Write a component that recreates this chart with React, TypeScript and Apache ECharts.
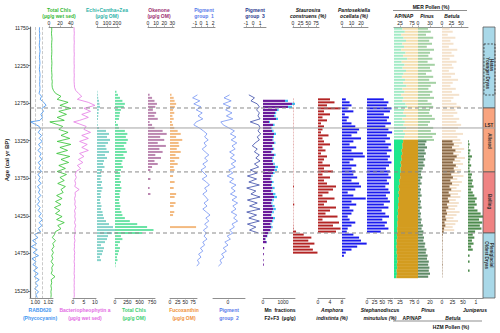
import React, { useEffect, useRef } from "react";
import * as echarts from "echarts";

// ---------------- data ----------------
const AGE_MIN = 11737;
const AGE_MAX = 15344;
const ageTicks = [11750, 12250, 12750, 13250, 13750, 14250, 14750, 15250];

// high-resolution core scanning / wet-sediment pigments
const scanAges = [11740, 11780, 11820, 11860, 11900, 11940, 11980, 12020, 12060, 12100,
  12140, 12180, 12220, 12260, 12300, 12340, 12380, 12420, 12460, 12500,
  12540, 12580, 12620, 12660, 12700, 12740, 12780, 12820, 12860, 12900,
  12940, 12980, 13000, 13060, 13100, 13140, 13180, 13220, 13260, 13300,
  13340, 13380, 13420, 13460, 13500, 13540, 13580, 13620, 13660, 13700,
  13740, 13780, 13820, 13860, 13900, 13940, 13980, 14020, 14060, 14100,
  14140, 14180, 14220, 14260, 14300, 14340, 14380, 14420, 14460, 14500,
  14540, 14580, 14620, 14660, 14700, 14740, 14780, 14820, 14860, 14900,
  14940, 14980, 15020, 15060, 15100, 15140, 15180, 15220, 15260, 15300, 15340];
const rabd620 = [1.0066, 1.0062, 1.0068, 1.0064, 1.0070, 1.0065, 1.0061, 1.0067, 1.0072, 1.0066,
  1.0063, 1.0068, 1.0071, 1.0066, 1.0062, 1.0069, 1.0073, 1.0067, 1.0070, 1.0066, 1.0072,
  1.0070, 1.0058, 1.0095, 1.0075, 1.0130, 1.0165, 1.0100, 1.0125, 1.0085, 1.0110, 1.0070,
  0.9930, 1.0060,
  1.0080, 1.0045, 1.0095, 1.0060, 1.0105, 1.0050, 1.0085, 1.0040, 1.0090, 1.0065,
  1.0100, 1.0045, 1.0080, 1.0055, 1.0095, 1.0040, 1.0075, 1.0050, 1.0090, 1.0035,
  1.0070, 1.0050, 1.0085, 1.0040, 1.0065, 1.0030, 1.0075, 1.0045, 1.0090, 1.0055,
  1.0110, 1.0060, 1.0100, 1.0045, 1.0080,
  0.9990, 1.0040, 0.9960, 1.0020, 0.9940, 1.0030, 0.9970, 1.0050, 0.9950, 1.0010,
  0.9965, 1.0035, 0.9975, 1.0045, 0.9985, 1.0060, 1.0000, 1.0040, 0.9990, 1.0050, 1.0010, 1.0030];
const totalChlsWet = [5, 5, 4.5, 5, 5.5, 5, 4.8, 5, 5.2, 5, 4.6, 5, 5.3, 5, 4.8, 5, 5.5, 5, 6, 5.5, 6,
  8, 12, 22, 15, 35, 20, 40, 18, 32, 15, 28,
  1.5, 25,
  18, 35, 22, 38, 15, 40, 20, 34, 14, 38, 22, 36, 18, 30, 15, 32, 20, 28, 16, 30,
  22, 26, 14, 24, 12, 22, 10, 20, 12, 24, 14, 28, 16, 22, 12,
  10, 6, 12, 7, 9, 5, 8, 5, 7, 4, 8, 5, 6, 4, 11, 4, 5, 3.5, 4.5, 3.5, 4, 3.5];
const bacteriopheophytin = [0.5, 0.5, 0.6, 0.5, 0.5, 0.6, 0.5, 0.5, 0.5, 0.6, 0.5, 0.5, 0.5, 0.6, 0.5, 0.5, 0.6, 0.5, 0.5, 0.6, 0.7,
  1.2, 2.5, 4, 2, 7, 10, 5, 8, 4, 7, 3,
  0.3, 6,
  5, 8, 4, 7, 3, 6.5, 4, 7, 3, 5, 2.5, 4.5, 2, 3.5, 1.5, 1, 1.5, 0.8, 1.2, 0.8,
  2.8, 0.9, 1.1, 0.7, 1.0, 0.8, 1.3, 0.7, 1.0, 0.8, 1.1, 0.7, 1.2, 0.8, 1.0,
  0.8, 0.6, 0.9, 0.6, 0.7, 0.5, 0.8, 0.6, 0.7, 0.5, 0.7, 0.6, 0.6, 0.5, 0.7, 0.5, 0.6, 0.5, 0.6, 0.5, 0.6, 0.5];

// HPLC pigments (µg/g OM)
const pigAges = [12600, 12640, 12680, 12720, 12760, 12800, 12840, 12880, 12920, 12960,
  13000, 13040, 13080, 13120, 13160, 13200, 13240, 13280, 13320, 13360,
  13400, 13440, 13480, 13520, 13560, 13600, 13640, 13680, 13720, 13760,
  13800, 13840, 13880, 13920, 13960, 14000, 14040, 14080, 14120, 14160,
  14200, 14240, 14280, 14320, 14360, 14400, 14440, 14480, 14520, 14560,
  14600, 14640, 14680, 14720, 14760, 14800, 14840, 14880, 14920];
const echiCanthaZea = [5, 8, 12, 20, 25, 30, 18, 15, 12, 10,
  3, 8, 20, 90, 120, 100, 130, 110, 85, 95,
  120, 80, 100, 70, 60, 75, 50, 40, 45, 35,
  50, 40, 55, 45, 35, 40, 30, 35, 45, 40,
  55, 60, 70, 90, 120, 160, 180, 150, 110, 100,
  80, 40, 70, 60, 50, 30, 40, 0, 0];
const totalChlsOM = [30, 60, 100, 150, 200, 180, 120, 100, 90, 80,
  20, 60, 80, 200, 250, 220, 260, 230, 180, 210,
  240, 170, 200, 150, 130, 160, 120, 100, 110, 90,
  120, 100, 130, 110, 90, 100, 80, 90, 110, 100,
  130, 150, 200, 300, 450, 650, 780, 550, 120, 150,
  100, 60, 100, 80, 60, 40, 50, 20, 10];
const okenone = [0, 2, 5, 8, 11, 9, 6, 10, 8, 12,
  2, 5, 8, 18, 23, 15, 20, 12, 22, 14,
  18, 9, 16, 8, 12, 5, 3, 0, 0, 3,
  0, 0, 2, 0, 3, 0, 0, 0, 0, 0,
  0, 0, 0, 0, 0, 0, 0, 0, 0, 0,
  0, 0, 0, 0, 0, 0, 0, 0, 0];
const fucoxanthin = [0, 5, 12, 15, 20, 16, 10, 14, 8, 12,
  6, 10, 14, 25, 35, 20, 40, 28, 30, 22,
  35, 18, 30, 15, 25, 12, 15, 0, 10, 0,
  15, 0, 12, 0, 20, 15, 0, 18, 12, 0,
  14, 10, 0, 0, 0, 85, 0, 0, 0, 0,
  0, 0, 0, 0, 0, 0, 0, 0, 0];

// PCA pigment groups
const pcaAges = [12640, 12680, 12720, 12760, 12800, 12840, 12880, 12920, 12960, 13000,
  13040, 13080, 13120, 13160, 13200, 13240, 13280, 13320, 13360, 13400,
  13440, 13480, 13520, 13560, 13600, 13640, 13680, 13720, 13760, 13800,
  13840, 13880, 13920, 13960, 14000, 14040, 14080, 14120, 14160, 14200,
  14240, 14280, 14320, 14360, 14400, 14440, 14480, 14520, 14560, 14600,
  14640, 14680, 14720, 14760, 14800, 14840, 14880, 14920];
const pigmentGroup1 = [-0.6, -1.4, -0.2, -1.2, 0.0, -0.8, 0.2, -0.5, 0.3, -0.8,
  -1.2, -0.3, 0.4, 1.0, 0.6, 1.2, 0.5, 0.9, 0.2, 0.7,
  1.3, 0.6, 1.1, 0.3, 0.8, 0.0, 0.5, 1.0, 0.2, 0.9,
  1.4, 0.6, 1.0, 0.3, 0.8, 1.2, 0.5, 1.0, 0.3, 0.9,
  1.5, 0.8, 1.3, 0.6, 1.1, 0.4, 0.9, 0.5, 1.0, 0.3,
  0.6, -0.1, 0.3, -0.4, 0.0, -0.6, -0.3, -0.7];
const pigmentGroup2 = [0.2, -0.5, 0.4, -0.6, 0.3, -0.3, 0.5, -0.2, 0.6, -0.9,
  -0.6, 0.1, 0.8, 0.3, 1.0, 0.4, 1.1, 0.5, 0.9, 0.2,
  0.8, 0.3, 1.0, 0.4, 0.9, 0.1, 0.6, -0.1, 0.7, 0.2,
  1.0, 0.4, 0.9, 0.3, 1.1, 0.5, 1.2, 0.6, 1.0, 0.4,
  1.1, 0.7, 1.2, 0.5, 0.8, 0.2, 0.6, -0.1, 0.3, -0.4,
  0.0, -0.6, -0.2, -0.8, -0.5, -1.0, -0.8, -1.2];
const pigmentGroup3 = [-0.6, 0.2, -0.3, 0.6, 0.9, 0.5, 0.9, 0.7, 1.0, -0.4,
  0.8, 1.0, 0.7, 1.1, 0.6, 0.9, 0.3, -0.1, 0.6, 0.2,
  0.9, 0.4, 1.0, 0.2, 0.8, -0.4, 0.6, -0.8, 0.5, -0.6,
  0.9, -0.9, 0.4, -0.3, 1.0, -0.8, 0.6, -0.5, 1.0, -0.9,
  0.5, -0.6, 0.9, -0.8, 0.4, -0.5, 0.8,
  null, null, null, null, null, null, null, null, null, null, null];

// Mn fractions (µg/g)
const mnAges = [12720, 12760, 12800, 12840, 12880, 12920, 12960, 13000, 13040, 13080,
  13120, 13160, 13200, 13240, 13280, 13320, 13360, 13400, 13440, 13480,
  13520, 13560, 13600, 13640, 13680, 13720, 13760, 13800, 13840, 13880,
  13920, 13960, 14000, 14040, 14080, 14120, 14160, 14200, 14240, 14280,
  14320, 14360, 14400, 14440, 14480, 14520, 14560, 14600, 14680, 14760, 14840, 14900];
const mnF2 = [1100, 1450, 1250, 700, 600, 550, 650, 300, 500, 400,
  450, 550, 500, 480, 560, 450, 500, 420, 550, 480,
  450, 520, 600, 580, 500, 420, 380, 450, 400, 480,
  420, 500, 550, 460, 420, 480, 520, 460, 400, 500,
  450, 380, 420, 350, 250, 200, 120, 180, 60, 40, 30, 40];
const mnF3 = [150, 150, 200, 80, 60, 80, 100, 50, 80, 60,
  80, 100, 50, 40, 60, 30, 60, 40, 80, 60,
  50, 70, 150, 120, 80, 60, 40, 80, 50, 100,
  60, 120, 150, 80, 50, 100, 120, 80, 40, 100,
  60, 40, 60, 40, 20, 20, 10, 10, 0, 0, 0, 0];

// diatoms (%)
const diaAges = [12700, 12740, 12780, 12820, 12860, 12900, 12940, 12980, 13020, 13060,
  13100, 13140, 13180, 13220, 13260, 13300, 13340, 13380, 13420, 13460,
  13500, 13540, 13580, 13620, 13660, 13700, 13740, 13780, 13820, 13860,
  13900, 13940, 13980, 14020, 14060, 14100, 14140, 14180, 14220, 14260,
  14300, 14340, 14380, 14420, 14460, 14500, 14540, 14580, 14620, 14660,
  14700, 14740, 14780];
const staurosira = [0.8, 1, 0.5, 1.5, 0.6, 1, 0.4, 0.8, 1.2, 0.5,
  0.8, 0.4, 1, 0.6, 0.5, 1.2, 0.4, 0.8, 0.5, 1,
  0.6, 0.4, 0.8, 1.2, 0.5, 0.8, 0.4, 1, 0.6, 3,
  0.5, 0.8, 0.4, 1, 0.6, 4, 0.8, 0.5, 1, 0.6,
  1.2, 0.8, 1.5, 2, 10, 35, 60, 50, 70, 55,
  65, 80, 0];
const amphora = [4, 5.5, 3, 7.5, 2, 4, 1.5, 3, 1, 2,
  1.5, 1, 3.5, 1.5, 2, 4, 1.5, 2.5, 1, 3,
  2, 1.5, 4, 2, 5, 1.5, 4, 2, 3, 6,
  5, 3.5, 1.5, 5.5, 3, 2, 6, 4, 2.5, 6.5,
  1.5, 7, 5, 7.5, 6, 0, 0, 0, 0, 0,
  0, 0, 0];
const pantosekiella = [4, 8, 10, 6, 12, 3, 7, 5, 10, 14,
  18, 16, 10, 20, 12, 8, 15, 10, 22, 24,
  12, 8, 15, 10, 14, 12, 16, 10, 18, 20,
  14, 6, 12, 25, 10, 15, 8, 12, 10, 6,
  8, 14, 10, 6, 5, 12, 18, 20, 26, 16,
  10, 4, 2];
const stephanodiscus = [55, 70, 65, 80, 75, 55, 72, 65, 78, 60,
  70, 82, 65, 75, 60, 78, 70, 80, 65, 75,
  68, 80, 72, 62, 75, 70, 78, 65, 72, 60,
  70, 75, 62, 68, 75, 55, 70, 48, 60, 72,
  50, 65, 58, 70, 45, 0, 0, 0, 0, 0,
  0, 0, 0];

// MER pollen (%)
const merAges = [11760, 11800, 11840, 11880, 11920, 11960, 12000, 12040, 12080, 12120,
  12160, 12200, 12240, 12280, 12320, 12360, 12400, 12440, 12480, 12520,
  12560, 12600, 12640, 12680, 12720, 12760, 12800, 12840, 12880, 12920,
  12960, 13000, 13040, 13080, 13120, 13160, 13200, 13240,
  13280, 13320, 13360, 13400, 13440, 13480, 13520, 13560, 13600, 13640,
  13680, 13720, 13760, 13800, 13840, 13880, 13920, 13960, 14000, 14040,
  14080, 14120, 14160, 14200, 14240, 14280, 14320, 14360, 14400, 14440];
const merAP = [35, 45, 30, 40, 50, 35, 42, 30, 48, 38,
  55, 32, 44, 36, 50, 40, 33, 46, 38, 52,
  35, 44, 30, 40, 36, 48, 55, 42, 38, 50,
  35, 45, 40, 52, 38, 46, 42, 36];
const merPinus = [25, 32, 20, 38, 28, 35, 22, 40, 30, 26,
  36, 24, 42, 30, 34, 20, 38, 28, 45, 32,
  26, 36, 30, 40, 24, 34, 38, 30, 28, 35,
  42, 30, 25, 38, 32, 45, 36, 40];
const merBetula = [20, 28, 15, 35, 22, 30, 18, 40, 25, 32,
  20, 38, 26, 30, 18, 34, 24, 42, 28, 22,
  36, 26, 45, 30, 24, 38, 48, 35, 40, 30,
  45, 38, 50, 42, 36, 55, 40, 48,
  52, 45, 58, 50, 44, 60, 48, 55, 42, 50,
  46, 56, 40, 52, 45, 38, 50, 42, 48, 36,
  44, 40, 34, 46, 38, 30, 42, 35, 28, 32];

// HZM pollen (%)
const hzmAges = [13260, 13300, 13340, 13380, 13420, 13460, 13500, 13540, 13580, 13620,
  13660, 13700, 13740, 13780, 13820, 13860, 13900, 13940, 13980, 14020,
  14060, 14100, 14140, 14180, 14220, 14260, 14300, 14340, 14380, 14420,
  14460, 14500, 14540, 14580, 14620, 14660, 14700, 14740, 14780, 14820,
  14860, 14900, 14940, 14980, 15020, 15060];
const hzmAP = [38, 35, 36, 32, 34, 30, 32, 28, 30, 27,
  28, 25, 26, 22, 24, 20, 22, 19, 21, 18,
  20, 17, 18, 16, 17, 15, 16, 14, 15, 13,
  14, 12, 13, 11, 12, 10, 12, 11, 13, 12,
  14, 12, 13, 11, 12, 10];
const hzmPinus = [14, 12, 15, 11, 13, 10, 12, 9, 11, 8,
  6, 5, 7, 4, 6, 3, 5, 4, 6, 3,
  5, 4, 6, 3, 5, 4, 6, 5, 8, 6,
  9, 8, 10, 9, 12, 11, 14, 13, 16, 15,
  18, 17, 19, 18, 20, 17];
const hzmBetula = [25, 28, 24, 32, 27, 35, 30, 26, 33, 28,
  30, 22, 26, 20, 24, 18, 22, 16, 20, 14,
  17, 12, 15, 10, 12, 8, 10, 6, 8, 5,
  4, 2, 1, 1.5, 1, 1, 1.5, 1, 1, 1,
  1, 1.5, 1, 1, 1, 0.5];
const hzmJuniperus = [0.1, 0.2, 0.1, 0.3, 0.2, 0.5, 0.3, 0.2, 0.4, 0.2,
  0.3, 0.5, 0.4, 0.6, 0.5, 0.7, 0.4, 0.6, 0.8, 1.1,
  0.9, 1.1, 0.8, 1.2, 1.6, 1.9, 1.4, 1.8, 1.5, 1.7,
  0.9, 0.6, 0.8, 0.5, 0.7, 0.4, 0.6, 0, 0.2, 0,
  0.2, 0, 0, 0.2, 0, 0];

// chronozones
const zoneNames = ["Younger Dryas", "Allerød", "Bølling", "Pleniglacial\nOldest Dryas"];
const zoneTops = [11737, 12815, 13666, 14479];
const zoneBottoms = [12815, 13666, 14479, 15344];
const subZoneName = "Hatas";
const subZoneTop = 11963;
const subZoneBottom = 12642;
const boundaryAges = [12815, 13666, 14479];
const lstAge = 13081;

// ---------------- styling / layout ----------------
const FONT = '"Liberation Sans", Arial, sans-serif';
const AXIS_COLOR = "#8f8f8f";
const GRID_TOP = 27;
const GRID_HEIGHT = 271;
const zoneColors = ["#a9d8e8", "#f9a47f", "#ef8383", "#a9d8e8"];
const zoneLabelAges = [12350, 13255, 14060, 14772];

const panels = [
  { left: 30, width: 23 }, // 0 RABD
  { left: 49, width: 24 }, // 1 chls wet
  { left: 73, width: 23 }, // 2 bphe
  { left: 97, width: 22 }, // 3 echi
  { left: 115, width: 40 }, // 4 chls OM
  { left: 148, width: 26 }, // 5 okenone
  { left: 170, width: 27 }, // 6 fuco
  { left: 192, width: 23 }, // 7 pg1
  { left: 213, width: 32 }, // 8 pg2
  { left: 244, width: 22 }, // 9 pg3
  { left: 263, width: 32 }, // 10 mn
  { left: 293, width: 26 }, // 11 staurosira
  { left: 318, width: 27 }, // 12 amphora
  { left: 342, width: 26 }, // 13 panto
  { left: 367, width: 26 }, // 14 steph
  { left: 394, width: 24 }, // 15 AP/NAP
  { left: 418, width: 24 }, // 16 Pinus
  { left: 442, width: 26 }, // 17 Betula
  { left: 468, width: 15 }, // 18 Juniperus
  { left: 483, width: 12 }, // 19 chronozones
  { left: 30, width: 465 }, // 20 overlay
];

function buildOption() {
  const xAxes: any[] = [];
  const plain = (v: number) => String(v);
  const addX = (grid: number, position: string, min: number, max: number, ticks: number[], fmt: (v: number) => string = plain) => {
    xAxes.push({
      type: "value", gridIndex: grid, position, min, max,
      axisLine: { show: true, lineStyle: { color: AXIS_COLOR, width: 1 } },
      axisTick: { show: true, length: 1.5, customValues: ticks, lineStyle: { color: AXIS_COLOR, width: 0.7 } },
      axisLabel: { show: true, customValues: ticks, fontSize: 5, color: "#222", margin: 1.5, fontFamily: FONT, formatter: fmt },
      splitLine: { show: false },
    });
    return xAxes.length - 1;
  };
  const addHidden = (grid: number) => {
    xAxes.push({ type: "value", gridIndex: grid, min: 0, max: 1, show: false, splitLine: { show: false } });
    return xAxes.length - 1;
  };

  const xRabd = addX(0, "bottom", 0.992, 1.027, [1.0, 1.02], (v) => v.toFixed(2));
  const xChlW = addX(1, "top", 0, 44, [0, 20, 40]);
  const xBphe = addX(2, "bottom", 0, 10.5, [0, 5, 10]);
  const xEchi = addX(3, "top", 0, 220, [0, 100, 200]);
  const xChlOM = addX(4, "bottom", 0, 810, [0, 250, 500, 750]);
  const xOken = addX(5, "top", 0, 32, [0, 10, 20, 30]);
  const xFuco = addX(6, "bottom", 0, 88, [0, 25, 50, 75]);
  const xPg1 = addX(7, "top", -1.5, 2.33, [-1, 0, 1, 2]);
  const xPg2 = addX(8, "bottom", -1.875, 2.125, [0]);
  const xPg3 = addX(9, "top", -1.29, 1.85, [-1, 0, 1]);
  const xMn = addX(10, "bottom", 0, 1600, [0, 1000]);
  const xStau = addX(11, "top", 0, 85, [0, 25, 50, 75]);
  const xAmph = addX(12, "bottom", 0, 9, [0, 4, 8]);
  const xPanto = addX(13, "top", 0, 27.4, [0, 10, 20]);
  const xSteph = addX(14, "bottom", 0, 85, [0, 25, 50, 75]);
  const xApTop = addX(15, "top", 0, 100, [25, 75]);
  const xApBot = addX(15, "bottom", 0, 100, [25, 75]);
  const xPinTop = addX(16, "top", 0, 60, [0, 30]);
  const xPinBot = addX(16, "bottom", 0, 40, [0, 20]);
  const xBetTop = addX(17, "top", 0, 68, [0, 25, 50]);
  const xBetBot = addX(17, "bottom", 0, 62, [0, 25, 50]);
  const xJun = addX(18, "bottom", 0, 1.9, [1]);
  const xChr = addHidden(19);
  const xOver = addHidden(20);

  const yAxes = panels.map((_, i) => ({
    type: "value", gridIndex: i, inverse: true, min: AGE_MIN, max: AGE_MAX,
    show: i === 0,
    axisLine: { show: i === 0, lineStyle: { color: "#666", width: 1.2 } },
    axisTick: { show: i === 0, length: 2, customValues: ageTicks, lineStyle: { color: "#555", width: 0.7 } },
    axisLabel: { show: i === 0, customValues: ageTicks, fontSize: 5, color: "#222", margin: 1.5, fontFamily: FONT, formatter: (v: number) => String(v) },
    splitLine: { show: false },
  }));

  const grids = panels.map((p) => ({ left: p.left, width: p.width, top: GRID_TOP, height: GRID_HEIGHT }));

  const bars = (xi: number, yi: number, ages: number[], from: any, to: any, color: string, thick: number, z = 2) => {
    const data: number[][] = [];
    ages.forEach((a, i) => {
      const s = typeof from === "number" ? from : from[i];
      const e = typeof to === "number" ? to : to[i];
      if (s == null || e == null || e <= s) return;
      data.push([s, e, a]);
    });
    return {
      type: "custom", xAxisIndex: xi, yAxisIndex: yi, z, silent: true, data,
      encode: { x: [0, 1], y: 2 },
      renderItem: (_p: any, api: any) => {
        const p0 = api.coord([api.value(0), api.value(2)]);
        const p1 = api.coord([api.value(1), api.value(2)]);
        return {
          type: "rect",
          shape: { x: p0[0], y: p0[1] - thick / 2, width: Math.max(p1[0] - p0[0], 0.3), height: thick },
          style: { fill: color },
        };
      },
    };
  };

  const line = (xi: number, yi: number, ages: number[], vals: any[], color: string, width = 0.8, extra: any = {}) => ({
    type: "line", xAxisIndex: xi, yAxisIndex: yi, z: 3, silent: true,
    data: ages.map((a, i) => [vals[i], a]).filter((d) => d[0] != null),
    showSymbol: false, symbol: "none",
    lineStyle: { color, width },
    ...extra,
  });

  const mnTotal = mnF2.map((v, i) => v + mnF3[i]);

  const txtStyle = (text: string, fill: string, size: number, italic = false) => ({
    text, fill,
    font: `${italic ? "italic " : ""}bold ${size}px ${FONT}`,
    textAlign: "center", textVerticalAlign: "middle", align: "center", verticalAlign: "middle",
  });

  const zoneSeries = {
    type: "custom", xAxisIndex: xChr, yAxisIndex: 19, z: 4, silent: true,
    data: zoneNames.map((_, i) => [0, 1, zoneTops[i], zoneBottoms[i], i]),
    encode: { x: [0, 1], y: [2, 3] },
    renderItem: (_p: any, api: any) => {
      const i = api.value(4);
      const a = api.coord([0, api.value(2)]);
      const b = api.coord([1, api.value(3)]);
      const children: any[] = [
        { type: "rect", shape: { x: a[0], y: a[1], width: b[0] - a[0], height: b[1] - a[1] }, style: { fill: zoneColors[i], stroke: "#5a5a5a", lineWidth: 0.8 } },
      ];
      if (i === 0) {
        const s0 = api.coord([0.08, subZoneTop]);
        const s1 = api.coord([1, subZoneBottom]);
        children.push({ type: "rect", shape: { x: s0[0], y: s0[1], width: s1[0] - s0[0], height: s1[1] - s0[1] }, style: { fill: "none", stroke: "#333", lineWidth: 0.8, lineDash: [2, 1.5] } });
        const h = api.coord([0.68, 12243]);
        children.push({ type: "text", x: h[0], y: h[1], rotation: -Math.PI / 2, style: txtStyle(subZoneName, "#333", 4.5) });
        const l = api.coord([0.38, zoneLabelAges[0]]);
        children.push({ type: "text", x: l[0], y: l[1], rotation: -Math.PI / 2, style: txtStyle(zoneNames[0], "#333", 4.5) });
      } else {
        const l = api.coord([0.5, zoneLabelAges[i]]);
        children.push({ type: "text", x: l[0], y: l[1], rotation: -Math.PI / 2, style: txtStyle(zoneNames[i], "#333", 4.5) });
      }
      if (i === 1) {
        const l = api.coord([0.5, lstAge]);
        children.push({ type: "text", x: l[0], y: l[1] - 2.8, style: txtStyle("LST", "#222", 4.5) });
      }
      return { type: "group", children };
    },
  };

  const overlaySeries = {
    type: "custom", xAxisIndex: xOver, yAxisIndex: 20, z: 10, silent: true,
    data: [...boundaryAges.map((a) => [0, a, 1]), [0, lstAge, 0]],
    encode: { x: 0, y: 1 },
    renderItem: (_p: any, api: any) => {
      const dashed = api.value(2) === 1;
      const a = api.coord([0, api.value(1)]);
      const b = api.coord([dashed ? 0.974 : 1, api.value(1)]);
      return {
        type: "line",
        shape: { x1: a[0], y1: a[1], x2: b[0], y2: b[1] },
        style: { stroke: dashed ? "#8a8a8a" : "#a3a3a3", lineWidth: 1, lineDash: dashed ? [4, 3] : null },
      };
    },
  };

  const series: any[] = [
    line(xRabd, 0, scanAges, rabd620, "#3d8fee", 0.8, {
      markLine: { silent: true, symbol: "none", label: { show: false }, lineStyle: { type: "dashed", color: "#bdbdbd", width: 0.8 }, data: [{ xAxis: 1.0 }, { xAxis: 1.012 }] },
    }),
    line(xChlW, 1, scanAges, totalChlsWet, "#2fc12f"),
    line(xBphe, 2, scanAges, bacteriopheophytin, "#e57ae5"),
    bars(xEchi, 3, pigAges, 0, echiCanthaZea, "#86d3cb", 2),
    bars(xChlOM, 4, pigAges, 0, totalChlsOM, "#6ce3a6", 2),
    bars(xOken, 5, pigAges, 0, okenone, "#bb86b0", 2),
    bars(xFuco, 6, pigAges, 0, fucoxanthin, "#f3ba80", 2),
    line(xPg1, 7, pcaAges, pigmentGroup1, "#7393f2"),
    line(xPg2, 8, pcaAges, pigmentGroup2, "#7393f2"),
    line(xPg3, 9, pcaAges, pigmentGroup3, "#3a4aa8"),
    bars(xMn, 10, mnAges, 0, mnF2, "#6a1b9a", 2.2),
    bars(xMn, 10, mnAges, mnF2, mnTotal, "#3ec1f5", 2.2),
    bars(xStau, 11, diaAges, 0, staurosira, "#b32424", 2),
    bars(xAmph, 12, diaAges, 0, amphora, "#b32424", 2),
    bars(xPanto, 13, diaAges, 0, pantosekiella, "#1a1aee", 2),
    bars(xSteph, 14, diaAges, 0, stephanodiscus, "#1a1aee", 2),
    bars(xApTop, 15, merAges, 0, merAP, "#a3ebc6", 2),
    bars(xApTop, 15, merAges, merAP, 100, "#f4dfb0", 2),
    bars(xPinTop, 16, merAges, 0, merPinus, "#a4d1a4", 2),
    bars(xBetTop, 17, merAges, 0, merBetula, "#f4e2cc", 2),
    bars(xApBot, 15, hzmAges, 0, hzmAP, "#1fe88c", 3.1, 3),
    bars(xApBot, 15, hzmAges, hzmAP, 100, "#d39c1f", 3.1, 3),
    bars(xPinBot, 16, hzmAges, 0, hzmPinus, "#5f8b67", 2.2, 3),
    bars(xBetBot, 17, hzmAges, 0, hzmBetula, "#8b6a48", 2.2, 3),
    bars(xJun, 18, hzmAges, 0, hzmJuniperus, "#4d8b4d", 2.2, 3),
    zoneSeries,
    overlaySeries,
  ];

  const t = (x: number, y: number, text: string, fill: string, italic = false, size = 5, rotation = 0) => ({
    type: "text", x, y, rotation, silent: true, z: 100,
    style: txtStyle(text, fill, size, italic),
  });
  const ln = (x1: number, y1: number, x2: number, y2: number) => ({
    type: "line", silent: true, z: 100, shape: { x1, y1, x2, y2 }, style: { stroke: "#8f8f8f", lineWidth: 1 },
  });

  const graphic = [
    t(7, 160, "Age (cal yr BP)", "#222", false, 6, Math.PI / 2),
    // top titles
    t(59, 10, "Total Chls", "#35b935"), t(59, 16, "(µg/g wet sed)", "#35b935"),
    t(107, 10, "Echi+Cantha+Zea", "#2fb3a8"), t(107, 16, "(µg/g OM)", "#2fb3a8"),
    t(159, 10, "Okenone", "#9c2f70"), t(159, 16, "(µg/g OM)", "#9c2f70"),
    t(204, 10, "Pigment", "#5a7bea"), t(204, 16, "group  1", "#5a7bea"),
    t(255, 10, "Pigment", "#2c3a8f"), t(255, 16, "group  3", "#2c3a8f"),
    t(308, 10, "Staurosira", "#111", true), t(308, 16, "construens (%)", "#111", true),
    t(354, 10, "Pantosekiella", "#111", true), t(354, 16, "ocellata (%)", "#111", true),
    t(431, 6.5, "MER Pollen (%)", "#111"), ln(393, 10.5, 467, 10.5),
    t(404, 16, "AP/NAP", "#111"), t(427, 16, "Pinus", "#111", true), t(452, 16, "Betula", "#111", true),
    // bottom titles
    t(40, 310, "RABD620", "#3f95f0"), t(40, 318, "(Phycocyanin)", "#3f95f0"),
    t(85, 310, "Bacteriopheophytin a", "#e36be3"), t(85, 318, "(µg/g wet sed)", "#e36be3"),
    t(134, 310, "Total Chls", "#3ccf70"), t(134, 318, "(µg/g OM)", "#3ccf70"),
    t(184, 310, "Fucoxanthin", "#f0913a"), t(184, 318, "(µg/g OM)", "#f0913a"),
    t(229, 310, "Pigment", "#5a7bea"), t(229, 318, "group  2", "#5a7bea"),
    t(280, 310, "Mn  fractions", "#111"), t(280, 318, "F2+F3  (µg/g)", "#111"),
    t(332, 310, "Amphora", "#111", true), t(332, 318, "indistinta (%)", "#111", true),
    t(380, 310, "Stephanodiscus", "#111", true), t(380, 318, "minutulus (%)", "#111", true),
    t(412, 318, "AP/NAP", "#111"), t(428, 310, "Pinus", "#111", true),
    t(453, 318, "Betula", "#111", true), t(475, 310, "Juniperus", "#111", true),
    ln(393, 321, 482, 321), t(451, 327, "HZM Pollen (%)", "#111"),
  ];

  return {
    animation: false,
    backgroundColor: "#ffffff",
    grid: grids,
    xAxis: xAxes,
    yAxis: yAxes,
    series,
    graphic,
  };
}

export default function App() {
  const ref = useRef<HTMLDivElement>(null);
  useEffect(() => {
    if (!ref.current) return;
    const chart = echarts.init(ref.current, null, { renderer: "svg" });
    chart.setOption(buildOption() as any);
    return () => chart.dispose();
  }, []);
  return (
    <div
      ref={ref}
      style={{ position: "absolute", left: 0, top: 0, width: 500, height: 333, background: "#fff" }}
    />
  );
}
